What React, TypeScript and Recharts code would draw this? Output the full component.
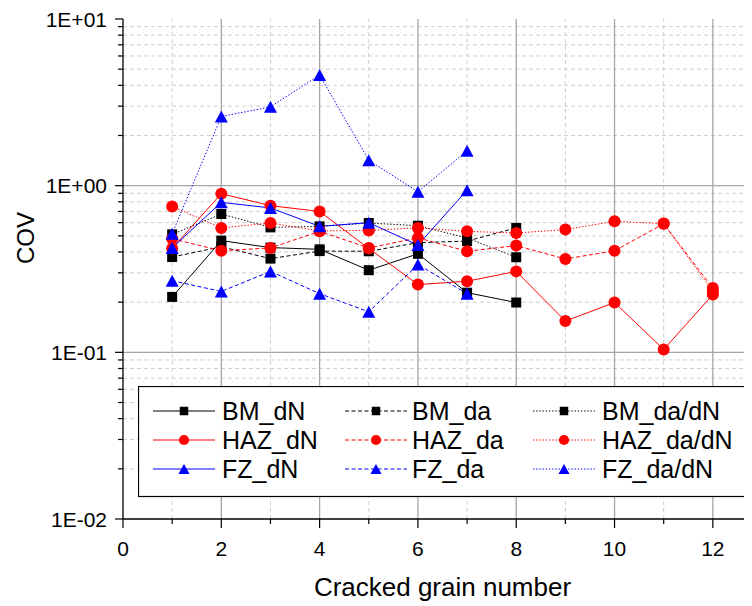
import React from 'react';
import { LineChart, Line, XAxis, YAxis, ReferenceLine, Legend } from 'recharts';

// Cracked grain number (x positions of the measurements)
const grainNumbers = [1, 2, 3, 4, 5, 6, 7, 8, 9, 10, 11, 12];

// Coefficient of variation per zone and quantity
const bmDN = [0.215, 0.468, 0.425, 0.415, 0.311, 0.39, 0.228, 0.199];
const bmDa = [0.373, 0.43, 0.365, 0.405, 0.404, 0.455, 0.465, 0.558];
const bmDaDN = [0.51, 0.676, 0.562, 0.57, 0.597, 0.575, 0.485, 0.372];
const hazDN = [0.42, 0.895, 0.759, 0.7, 0.42, 0.255, 0.267, 0.306, 0.154, 0.199, 0.104, 0.222];
const hazDa = [0.48, 0.407, 0.423, 0.532, 0.423, 0.486, 0.404, 0.437, 0.363, 0.407, 0.59, 0.243];
const hazDaDN = [0.751, 0.558, 0.597, 0.535, 0.539, 0.558, 0.532, 0.52, 0.545, 0.611, 0.592, 0.232];
const fzDN = [0.423, 0.794, 0.735, 0.57, 0.6, 0.44, 0.94];
const fzDa = [0.269, 0.232, 0.306, 0.225, 0.175, 0.336, 0.225];
const fzDaDN = [0.515, 2.6, 2.97, 4.61, 1.42, 0.92, 1.62];

// Axis ticks
const xTicks = [0, 1, 2, 3, 4, 5, 6, 7, 8, 9, 10, 11, 12, 13];
const xMajorTicks = [0, 2, 4, 6, 8, 10, 12];
const yMajorTicks = [0.01, 0.1, 1, 10];
const yMajorLabels = ['1E-02', '1E-01', '1E+00', '1E+01'];
const yMinorTicks = [
  0.02, 0.03, 0.04, 0.05, 0.06, 0.07, 0.08, 0.09,
  0.2, 0.3, 0.4, 0.5, 0.6, 0.7, 0.8, 0.9,
  2, 3, 4, 5, 6, 7, 8, 9,
];
const yTicks = [...yMajorTicks, ...yMinorTicks].sort((a, b) => a - b);

const FONT = '"Liberation Sans", Arial, sans-serif';

type Marker = 'square' | 'circle' | 'triangle';
interface Series {
  key: string;
  values: number[];
  color: string;
  dash?: string;
  marker: Marker;
}

const SOLID = undefined;
const DASH = '4 2.5';
const DOT = '1.4 1.8';

const series: Series[] = [
  { key: 'BM_dN', values: bmDN, color: '#000000', dash: SOLID, marker: 'square' },
  { key: 'BM_da', values: bmDa, color: '#000000', dash: DASH, marker: 'square' },
  { key: 'BM_da/dN', values: bmDaDN, color: '#000000', dash: DOT, marker: 'square' },
  { key: 'HAZ_dN', values: hazDN, color: '#ff0000', dash: SOLID, marker: 'circle' },
  { key: 'HAZ_da', values: hazDa, color: '#ff0000', dash: DASH, marker: 'circle' },
  { key: 'HAZ_da/dN', values: hazDaDN, color: '#ff0000', dash: DOT, marker: 'circle' },
  { key: 'FZ_dN', values: fzDN, color: '#0000ff', dash: SOLID, marker: 'triangle' },
  { key: 'FZ_da', values: fzDa, color: '#0000ff', dash: DASH, marker: 'triangle' },
  { key: 'FZ_da/dN', values: fzDaDN, color: '#0000ff', dash: DOT, marker: 'triangle' },
];

const data = grainNumbers.map((g, i) => {
  const row: Record<string, number | undefined> = { grain: g };
  series.forEach((s) => {
    row[s.key] = s.values[i];
  });
  return row;
});

function MarkerShape({ cx, cy, kind, color, size = 1 }: { cx: number; cy: number; kind: Marker; color: string; size?: number }) {
  if (kind === 'square') {
    const h = 5 * size;
    return <rect x={cx - h} y={cy - h} width={2 * h} height={2 * h} fill={color} />;
  }
  if (kind === 'circle') {
    return <circle cx={cx} cy={cy} r={6 * size} fill={color} />;
  }
  const w = 6.5 * size;
  const h = 6 * size;
  return <polygon points={`${cx},${cy - h} ${cx + w},${cy + h} ${cx - w},${cy + h}`} fill={color} />;
}

const makeDot = (s: Series) => (props: any) => {
  const { cx, cy, index } = props;
  if (cx == null || cy == null || Number.isNaN(cx) || Number.isNaN(cy)) return <g key={`${s.key}-${index}`} />;
  return (
    <g key={`${s.key}-${index}`}>
      <MarkerShape cx={cx} cy={cy} kind={s.marker} color={s.color} />
    </g>
  );
};

const YTick = (props: any) => {
  const { x, y, payload } = props;
  const idx = yMajorTicks.indexOf(payload.value);
  const major = idx >= 0;
  return (
    <g>
      <line x1={x} x2={x - (major ? 8 : 5)} y1={y} y2={y} stroke="#000" strokeWidth={1.2} />
      {major && (
        <text x={x - 16} y={y} textAnchor="end" dominantBaseline="central" fontFamily={FONT} fontSize={21} fill="#000">
          {yMajorLabels[idx]}
        </text>
      )}
    </g>
  );
};

const XTick = (props: any) => {
  const { x, y, payload } = props;
  const major = xMajorTicks.includes(payload.value);
  return (
    <g>
      <line x1={x} x2={x} y1={y} y2={y + (major ? 9 : 5)} stroke="#000" strokeWidth={1.2} />
      {major && (
        <text x={x} y={y + 29} textAnchor="middle" dominantBaseline="central" fontFamily={FONT} fontSize={21} fill="#000">
          {payload.value}
        </text>
      )}
    </g>
  );
};

const XTitle = (props: any) => {
  const vb = props.viewBox;
  return (
    <text x={vb.x + vb.width / 2} y={vb.y + 68} textAnchor="middle" dominantBaseline="central" fontFamily={FONT} fontSize={26} fill="#000">
      Cracked grain number
    </text>
  );
};

const YTitle = (props: any) => {
  const vb = props.viewBox;
  const cx = vb.x + 17;
  const cy = vb.y + 219;
  return (
    <text x={cx} y={cy} transform={`rotate(-90 ${cx} ${cy})`} textAnchor="middle" dominantBaseline="central" fontFamily={FONT} fontSize={24} fill="#000">
      COV
    </text>
  );
};

const LegendBox = () => {
  const rowY = [25, 54, 83];
  const colLine = [15, 207, 395];
  const colText = [84, 274, 464];
  return (
    <svg width={640} height={112} style={{ display: 'block' }}>
      <rect x={0.5} y={0.5} width={660} height={110} fill="#fff" stroke="#000" strokeWidth={1.2} />
      {series.map((s, i) => {
        const r = Math.floor(i / 3);
        const c = i % 3;
        const y = rowY[r];
        const x0 = colLine[c];
        return (
          <g key={s.key}>
            <line x1={x0} x2={x0 + 62} y1={y} y2={y} stroke={s.color} strokeWidth={1} strokeDasharray={s.dash} />
            <MarkerShape cx={x0 + 31} cy={y} kind={s.marker} color={s.color} size={0.85} />
            <text x={colText[c]} y={y} dominantBaseline="central" fontFamily={FONT} fontSize={25} fill="#000">
              {s.key}
            </text>
          </g>
        );
      })}
    </svg>
  );
};

const MAJOR_GRID = '#a6a6a6';
const MINOR_GRID = '#cfcfcf';

export default function App() {
  return (
    <div style={{ width: 744, height: 598, overflow: 'hidden', position: 'relative', background: '#fff' }}>
      <LineChart width={754} height={598} data={data} margin={{ top: 11, right: 0, bottom: 0, left: 0 }}>
        <XAxis
          dataKey="grain"
          type="number"
          domain={[0, 13]}
          ticks={xTicks}
          allowDataOverflow
          interval={0}
          height={87}
          tickSize={0}
          tickMargin={0}
          tickLine={false}
          tick={XTick}
          axisLine={{ stroke: '#000', strokeWidth: 1.3 }}
          label={{ content: XTitle }}
        />
        <YAxis
          type="number"
          scale="log"
          domain={[0.01, 10]}
          ticks={yTicks}
          allowDataOverflow
          interval={0}
          width={115}
          tickSize={0}
          tickMargin={0}
          tickLine={false}
          tick={YTick}
          axisLine={{ stroke: '#000', strokeWidth: 1.3 }}
          label={{ content: YTitle }}
        />
        {yMinorTicks.map((v) => (
          <ReferenceLine key={`ym-${v}`} y={v} stroke={MINOR_GRID} strokeWidth={1} strokeDasharray="4 3" />
        ))}
        {xTicks
          .filter((v) => !xMajorTicks.includes(v))
          .map((v) => (
            <ReferenceLine key={`xm-${v}`} x={v} stroke={MINOR_GRID} strokeWidth={1} strokeDasharray="4 3" />
          ))}
        {[0.1, 1].map((v) => (
          <ReferenceLine key={`yM-${v}`} y={v} stroke={MAJOR_GRID} strokeWidth={1.3} />
        ))}
        {xMajorTicks
          .filter((v) => v > 0)
          .map((v) => (
            <ReferenceLine key={`xM-${v}`} x={v} stroke={MAJOR_GRID} strokeWidth={1.3} />
          ))}
        {series.map((s) => (
          <Line
            key={s.key}
            dataKey={s.key}
            name={s.key}
            stroke={s.color}
            strokeWidth={1}
            strokeDasharray={s.dash}
            type="linear"
            dot={makeDot(s)}
            activeDot={false}
            isAnimationActive={false}
            connectNulls={false}
          />
        ))}
        <Legend
          layout="vertical"
          align="center"
          verticalAlign="middle"
          content={LegendBox}
          wrapperStyle={{ left: 130, top: 378, width: 640, height: 112 }}
        />
      </LineChart>
    </div>
  );
}
